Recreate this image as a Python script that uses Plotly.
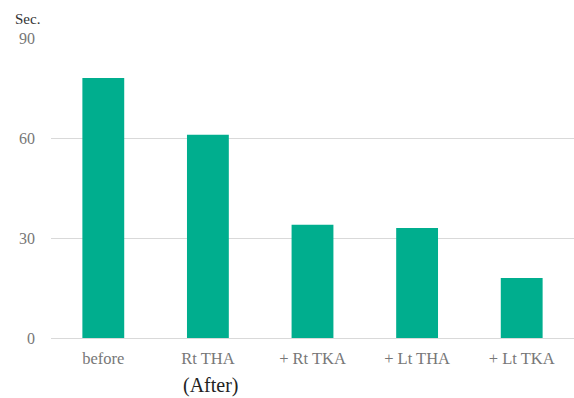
import plotly.graph_objects as go

categories = ["before", "Rt THA", "+ Rt TKA", "+ Lt THA", "+ Lt TKA"]
values = [78, 61, 34, 33, 18]
y_ticks = [0, 30, 60, 90]

fig = go.Figure(go.Bar(x=categories, y=values, marker=dict(color="#00AE8E", line=dict(width=0))))

fig.update_layout(
    width=574, height=398,
    margin=dict(l=51, r=0, t=38, b=60),
    plot_bgcolor="white", paper_bgcolor="white",
    bargap=0.6, showlegend=False,
    font=dict(family="Liberation Serif", size=16, color="#777777"),
)
fig.update_xaxes(showgrid=False, showline=False, ticks="", ticklabelstandoff=8,
                 tickfont=dict(family="Liberation Serif", size=16.5, color="#777777"))
fig.update_yaxes(range=[0, 90], tickvals=y_ticks, showgrid=True, gridcolor="#d9d9d9", gridwidth=1,
                 zeroline=True, zerolinecolor="#d9d9d9", zerolinewidth=1, showline=False,
                 ticks="", ticklabelstandoff=15, tickfont=dict(family="Liberation Serif", size=16, color="#777777"))

fig.add_annotation(text="Sec.", xref="paper", yref="paper", x=-0.072, y=1.0, yanchor="bottom", xanchor="left",
                   yshift=9, showarrow=False, font=dict(family="Liberation Serif", size=15, color="#333333"))
fig.add_annotation(text="(After)", xref="x", yref="paper", x="Rt THA", y=0, yanchor="top",
                   yshift=-34, xshift=3, showarrow=False, font=dict(family="Liberation Serif", size=20, color="#222222"))

fig.write_html("out.html")
